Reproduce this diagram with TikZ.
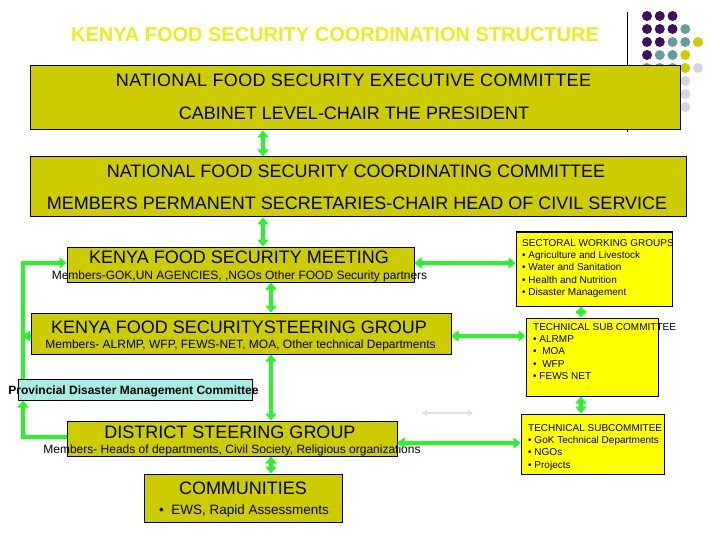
\documentclass[tikz,border=0pt]{standalone}
\usepackage{fontspec}
\setmainfont{Liberation Sans}
\usetikzlibrary{arrows.meta}
\definecolor{BoxClr}{RGB}{204,204,0}
\definecolor{NoteClr}{RGB}{255,255,0}
\definecolor{LinkClr}{RGB}{40,245,40}
\definecolor{PdmcClr}{RGB}{165,236,226}
\definecolor{TitleClr}{RGB}{236,236,30}
\definecolor{DotP}{RGB}{62,16,96}
\definecolor{DotT}{RGB}{102,156,156}
\definecolor{DotY}{RGB}{204,204,0}
\definecolor{DotL}{RGB}{212,212,232}

\begin{document}
\begin{tikzpicture}[x=1pt,y=-1pt,
  box/.style={draw=black,line width=1pt,fill=BoxClr,inner sep=0pt},
  notebox/.style={draw=black,line width=1pt,fill=NoteClr,inner sep=0pt},
  link/.style={draw=LinkClr,line width=4pt,>={Triangle[length=7pt,width=11pt]}},
  big/.style={anchor=base,inner sep=0pt,font=\fontsize{18}{21}\selectfont},
  small/.style={anchor=base,inner sep=0pt,font=\fontsize{12}{14}\selectfont},
  list/.style={anchor=north west,align=left,inner sep=0pt,font=\fontsize{10}{12.2}\selectfont}]
\useasboundingbox (0,0) rectangle (720,540);

\draw[line width=1pt] (627,12) -- (627,132);
\foreach \i/\j/\c in {1/1/DotP,2/1/DotP,3/1/DotP,
  1/2/DotP,2/2/DotP,3/2/DotP,4/2/DotT,
  1/3/DotP,2/3/DotP,3/3/DotT,4/3/DotT,5/3/DotY,
  1/4/DotP,2/4/DotT,3/4/DotT,4/4/DotY,
  1/5/DotT,2/5/DotT,3/5/DotT,4/5/DotY,5/5/DotL,
  4/6/DotL,4/7/DotL,4/8/DotL}
  \fill[\c] (634.25+12.75*\i,3+13*\j) circle (5);

\node[anchor=base,inner sep=0pt,text=TitleClr,font=\fontsize{20}{24}\selectfont\bfseries] (title) at (335,41.2) {KENYA FOOD SECURITY COORDINATION STRUCTURE};

\node[box,minimum width=650,minimum height=64] (exec) at (355,98) {};
\node[box,minimum width=656,minimum height=60] (coord) at (358,187) {};
\node[box,minimum width=347,minimum height=35] (kfsm) at (240.5,264.5) {};
\node[box,minimum width=420,minimum height=41] (kfssg) at (241,333.5) {};
\node[draw=black,line width=1pt,fill=PdmcClr,inner sep=0pt,minimum width=234,minimum height=21] (pdmc) at (135,389.5) {};
\node[box,minimum width=330,minimum height=35] (dsg) at (232,438.5) {};
\node[box,minimum width=198,minimum height=48] (comm) at (243,498) {};
\node[notebox,minimum width=156,minimum height=74] (swg) at (594,269) {};
\node[notebox,minimum width=132,minimum height=78] (tsc) at (592,357) {};
\node[notebox,minimum width=143,minimum height=60] (tsc2) at (592.5,444) {};

\node[big,font=\fontsize{18}{21}\selectfont\addfontfeature{LetterSpace=2}] (execA) at (353.5,87) {NATIONAL FOOD SECURITY EXECUTIVE COMMITTEE};
\node[big] (execB) at (354,119.5) {CABINET LEVEL-CHAIR THE PRESIDENT};
\node[big] (coordA) at (356,177.5) {NATIONAL FOOD SECURITY COORDINATING COMMITTEE};
\node[big] (coordB) at (357,209.5) {MEMBERS PERMANENT SECRETARIES-CHAIR HEAD OF CIVIL SERVICE};
\node[big] (kfsmA) at (239,263.5) {KENYA FOOD SECURITY MEETING};
\node[small] (kfsmB) at (239.5,279.3) {Members-GOK,UN AGENCIES, ,NGOs Other FOOD Security partners};
\node[big] (kfssgA) at (239,333.5) {KENYA FOOD SECURITYSTEERING GROUP};
\node[small] (kfssgB) at (240.5,348.3) {Members- ALRMP, WFP, FEWS-NET, MOA, Other technical Departments};
\node[anchor=base,inner sep=0pt,font=\fontsize{12}{14}\selectfont\bfseries] (pdmcA) at (133.5,394.3) {Provincial Disaster Management Committee};
\node[big] (dsgA) at (230,438.5) {DISTRICT STEERING GROUP};
\node[small] (dsgB) at (232,453.3) {Members- Heads of departments, Civil Society, Religious organizations};
\node[big] (commA) at (243,494.5) {COMMUNITIES};
\node[anchor=base,inner sep=0pt,font=\fontsize{13.5}{16}\selectfont] (commB) at (244,514.7) {\textbullet\ \ EWS, Rapid Assessments};

\node[list] (swgA) at (522,239.4) {SECTORAL WORKING GROUPS\\\textbullet\ Agriculture and Livestock\\\textbullet\ Water and Sanitation\\\textbullet\ Health and Nutrition\\\textbullet\ Disaster Management};
\node[list] (tscA) at (533,323.4) {TECHNICAL SUB COMMITTEE\\\textbullet\ ALRMP\\\textbullet\ \ MOA\\\textbullet\ \ WFP\\\textbullet\ FEWS NET};
\node[list] (tsc2A) at (528,424.4) {TECHNICAL SUBCOMMITEE\\\textbullet\ GoK Technical Departments\\\textbullet\ NGOs\\\textbullet\ Projects};

\coordinate (xa) at (263,0);
\coordinate (xb) at (271,0);
\coordinate (xc) at (581,0);
\coordinate (xl) at (23,0);
\coordinate (ya) at (0,263);
\coordinate (yb) at (0,336);
\coordinate (yc) at (0,443);
\coordinate (yd) at (0,437);
\coordinate (ga) at (422,413);
\coordinate (gb) at (473,413);

\draw[link,<->] (exec.south -| xa) -- (coord.north -| xa);
\draw[link,<->] (coord.south -| xa) -- (kfsm.north -| xa);
\draw[link,<->] (kfsm.south -| xb) -- (kfssg.north -| xb);
\draw[link,<->] (kfssg.south -| xb) -- (dsg.north -| xb);
\draw[link,<->] (dsg.south -| xb) -- (comm.north -| xb);
\draw[link,<->] (swg.south -| xc) -- (tsc.north -| xc);
\draw[link,<->] (tsc.south -| xc) -- (tsc2.north -| xc);
\draw[link,<->] (kfsm.east |- ya) -- (swg.west |- ya);
\draw[link,<->] (kfssg.east |- yb) -- (tsc.west |- yb);
\draw[link,<->] (dsg.east |- yc) -- (tsc2.west |- yc);
\draw[link,->] (pdmc.north -| xl) |- (kfsm.west |- ya);
\draw[link,->] (kfssg.west |- yb) -- (xl |- yb);
\draw[link,->] (dsg.west |- yd) -| (pdmc.south -| xl);
\draw[black!12,line width=2pt,<->,>={Triangle[length=5pt,width=6pt]}] (ga) -- (gb);

\end{tikzpicture}
\end{document}
